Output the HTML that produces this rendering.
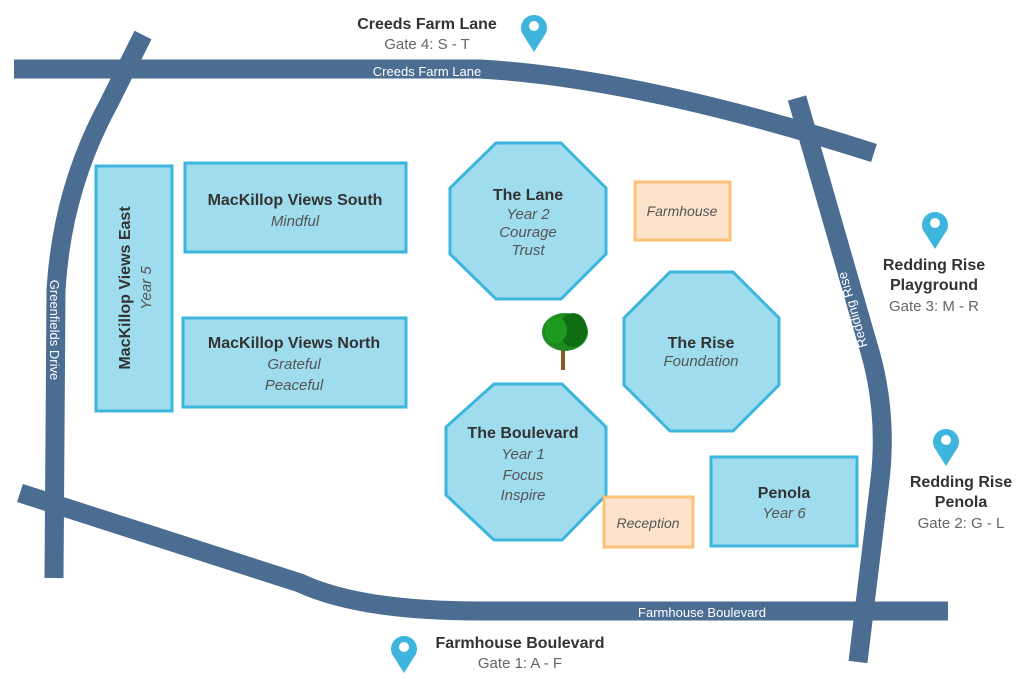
<!DOCTYPE html>
<html><head><meta charset="utf-8"><style>
html,body{margin:0;padding:0;background:#fff;}
svg{display:block;font-family:"Liberation Sans",sans-serif;}
.t{font-weight:bold;font-size:16px;fill:#333;text-anchor:middle;}
.s{font-style:italic;font-size:15px;fill:#555;text-anchor:middle;}
.g{font-size:15px;fill:#666;text-anchor:middle;}
.r{font-size:13px;fill:#fff;text-anchor:middle;}
.b{fill:#9fdcee;stroke:#3db5dc;stroke-width:3;}
.o{fill:#fde3cc;stroke:#fdc077;stroke-width:3;}
</style></head><body>
<svg width="1032" height="682" viewBox="0 0 1032 682">
<g fill="none" stroke="#4a6d91" stroke-width="19">
<path d="M20,493 L300,583 Q360,611 480,611 L948,611"/>
<path d="M143,35 L108,105 Q62,190 56,290 L54,578"/>
<path d="M14,69 L480,69 Q640,78 874,153"/>
<path d="M797,98 L868,345 Q888,410 880,480 L858,662"/>
</g>
<text class="r" x="427" y="76">Creeds Farm Lane</text>
<text class="r" x="702" y="617">Farmhouse Boulevard</text>
<text class="r" transform="translate(852,310) rotate(-106)" dy="5">Redding Rise</text>
<text class="r" transform="translate(50,330) rotate(90)">Greenfields Drive</text>

<rect class="b" x="96" y="166" width="76" height="245"/>
<text class="t" transform="translate(130,288) rotate(-90)">MacKillop Views East</text>
<text class="s" transform="translate(151,288) rotate(-90)">Year 5</text>
<rect class="b" x="185" y="163" width="221" height="89"/>
<text class="t" x="295" y="205">MacKillop Views South</text>
<text class="s" x="295" y="226">Mindful</text>
<rect class="b" x="183" y="318" width="223" height="89"/>
<text class="t" x="294" y="348">MacKillop Views North</text>
<text class="s" x="294" y="369">Grateful</text>
<text class="s" x="294" y="390">Peaceful</text>

<polygon class="b" points="496,143 561,143 606,188 606,254 561,299 496,299 450,254 450,188"/>
<text class="t" x="528" y="200">The Lane</text>
<text class="s" x="528" y="219">Year 2</text>
<text class="s" x="528" y="237">Courage</text>
<text class="s" x="528" y="255">Trust</text>

<polygon class="b" points="670,272 733,272 779,318 779,385 733,431 670,431 624,385 624,318"/>
<text class="t" x="701" y="348">The Rise</text>
<text class="s" x="701" y="366">Foundation</text>

<polygon class="b" points="494,384 562,384 606,427 606,495 562,540 494,540 446,495 446,427"/>
<text class="t" x="523" y="438">The Boulevard</text>
<text class="s" x="523" y="459">Year 1</text>
<text class="s" x="523" y="480">Focus</text>
<text class="s" x="523" y="500">Inspire</text>

<rect class="o" x="635" y="182" width="95" height="58"/>
<text class="s" x="682" y="216" style="font-size:14px">Farmhouse</text>
<rect class="o" x="604" y="497" width="89" height="50"/>
<text class="s" x="648" y="528" style="font-size:14px">Reception</text>
<rect class="b" x="711" y="457" width="146" height="89"/>
<text class="t" x="784" y="498">Penola</text>
<text class="s" x="784" y="518">Year 6</text>

<rect x="561" y="340" width="4" height="30" fill="#8a5a2b"/>
<ellipse cx="565" cy="332" rx="23" ry="19" fill="#1f8a1f"/>
<ellipse cx="573" cy="330" rx="14" ry="17" fill="#0f6e12"/>
<ellipse cx="556" cy="330" rx="11" ry="13" fill="#1e9a1e"/>

<g fill="#3db5dc">
<path d="M534,52 L522,33 A13,13 0 1 1 546,33 Z"/>
<path d="M935,249 L923,230 A13,13 0 1 1 947,230 Z"/>
<path d="M946,466 L934,447 A13,13 0 1 1 958,447 Z"/>
<path d="M404,673 L392,654 A13,13 0 1 1 416,654 Z"/>
</g>
<g fill="#fff">
<circle cx="534" cy="26" r="5"/><circle cx="935" cy="223" r="5"/>
<circle cx="946" cy="440" r="5"/><circle cx="404" cy="647" r="5"/>
</g>
<text class="t" x="427" y="29">Creeds Farm Lane</text>
<text class="g" x="427" y="49">Gate 4: S - T</text>
<text class="t" x="934" y="270">Redding Rise</text>
<text class="t" x="934" y="290">Playground</text>
<text class="g" x="934" y="311">Gate 3: M - R</text>
<text class="t" x="961" y="487">Redding Rise</text>
<text class="t" x="961" y="507">Penola</text>
<text class="g" x="961" y="528">Gate 2: G - L</text>
<text class="t" x="520" y="648">Farmhouse Boulevard</text>
<text class="g" x="520" y="668">Gate 1: A - F</text>
</svg>
</body></html>
